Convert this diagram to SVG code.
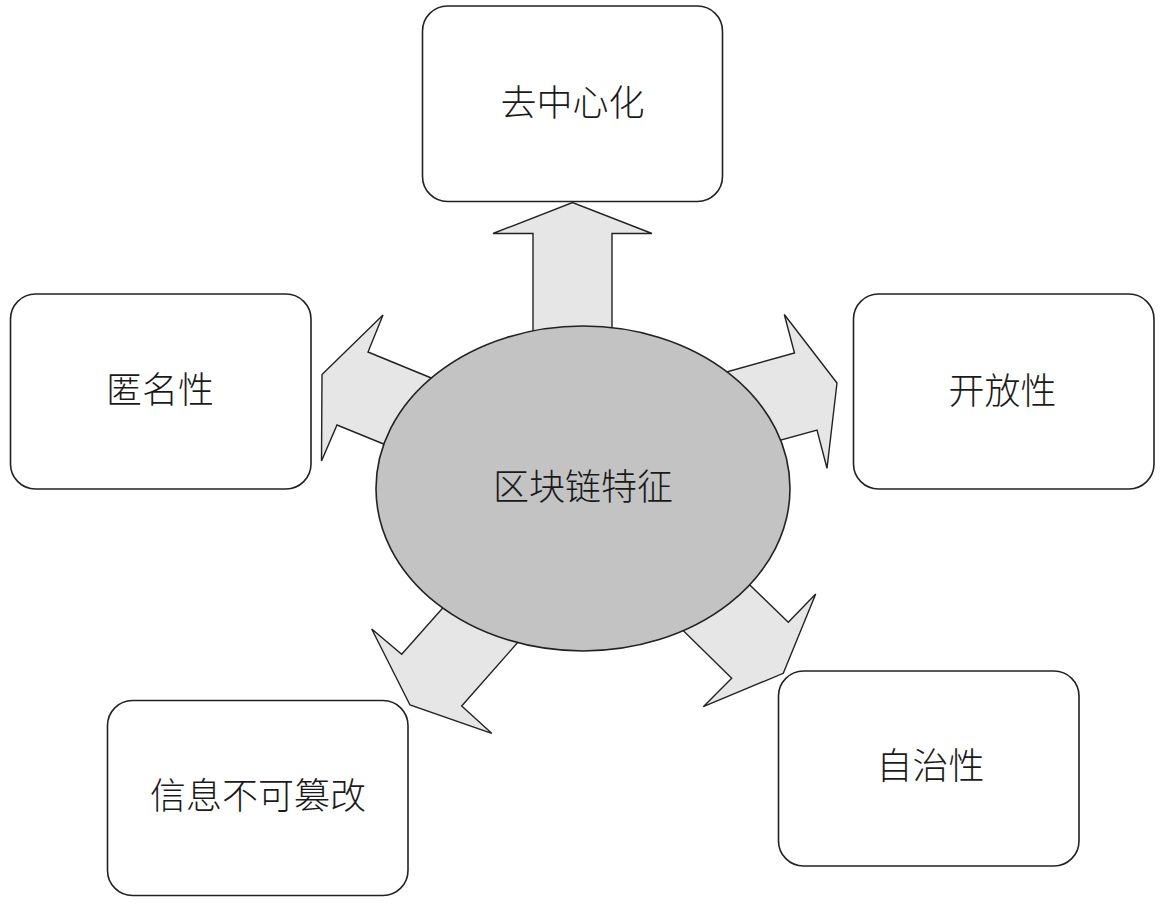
<svg xmlns="http://www.w3.org/2000/svg" width="1161" height="910" viewBox="0 0 1161 910">
<style>
.box{fill:#ffffff;stroke:#222222;stroke-width:1.6}
.arr{fill:#e6e6e6;stroke:#222222;stroke-width:1.4;stroke-linejoin:miter}
.hub{fill:#c3c3c3;stroke:#222222;stroke-width:1.6}
.lbl{font-family:"Noto Sans CJK SC","Noto Sans CJK JP",sans-serif;font-size:36px;font-weight:300;fill:#1a1a1a;text-anchor:middle}
</style>
<rect width="1161" height="910" fill="#ffffff"/>
<g id="connectors">
<polygon class="arr" points="533,380 533,233.5 493,233.5 572.5,202.5 652,233.5 612,233.5 612,380"/>
<polygon class="arr" points="480,398 368,352 383,315 322,374.5 321.5,461 337,425 440,467"/>
<polygon class="arr" points="680,385 794.5,353 784.3,314.5 837,383 827,468.3 817,430 720,457"/>
<polygon class="arr" points="480,566 401.7,654.3 371.7,629 410,705 491.7,733.3 461.7,706 550,606"/>
<polygon class="arr" points="720,556 788.3,622.3 815.7,594 783.3,673.3 703.3,706.7 731.7,678.3 650,598"/>
</g>
<g id="hub">
<ellipse class="hub" cx="583" cy="488.5" rx="207" ry="162.5"/>
<text class="lbl" x="583" y="500">区块链特征</text>
</g>
<g id="node-decentral">
<rect class="box" x="422.5" y="6" width="300" height="195.5" rx="25" ry="25"/>
<text class="lbl" x="572.5" y="116">去中心化</text>
</g>
<g id="node-anonymous">
<rect class="box" x="10.5" y="294" width="300.5" height="195" rx="25" ry="25"/>
<text class="lbl" x="160" y="403">匿名性</text>
</g>
<g id="node-open">
<rect class="box" x="853.5" y="294" width="300.5" height="195" rx="25" ry="25"/>
<text class="lbl" x="1002.5" y="404">开放性</text>
</g>
<g id="node-immutable">
<rect class="box" x="107.5" y="700.5" width="300.5" height="195" rx="25" ry="25"/>
<text class="lbl" x="258" y="809">信息不可篡改</text>
</g>
<g id="node-autonomy">
<rect class="box" x="778.5" y="671" width="300.5" height="195" rx="25" ry="25"/>
<text class="lbl" x="930.5" y="779">自治性</text>
</g>
</svg>
